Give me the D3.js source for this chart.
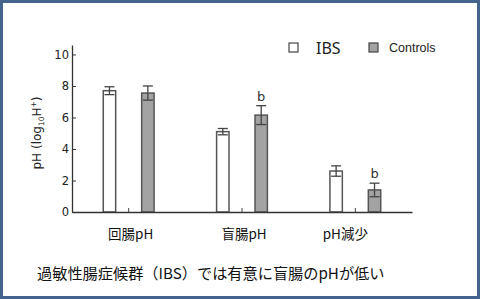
<!DOCTYPE html>
<html>
<head>
<meta charset="utf-8">
<script src="https://cdn.jsdelivr.net/npm/d3@7"></script>
<style>
  html, body { margin: 0; padding: 0; background: #fff; }
  svg { display: block; }
</style>
</head>
<body>
<div class="chart"></div>
<script>
const categories = ['回腸pH', '盲腸pH', 'pH減少'];
const series = ['IBS', 'Controls'];
const ibsMean = [7.7, 5.1, 2.6];
const ibsErr = [0.25, 0.2, 0.33];
const ctrlMean = [7.55, 6.15, 1.4];
const ctrlErr = [0.45, 0.6, 0.43];
const ctrlSig = ['', 'b', 'b'];
const yTicks = [0, 2, 4, 6, 8, 10];
const caption = '過敏性腸症候群（IBS）では有意に盲腸のpHが低い';

const width = 480;
const height = 299;
const margin = {top: 45, right: 68, bottom: 87, left: 72};
const fills = {IBS: '#ffffff', Controls: '#a3a3a3'};
const ink = '#444';

const svg = d3.select('.chart')
              .append('svg:svg')
              .attr('width', width)
              .attr('height', height)
              .attr('viewBox', [0, 0, width, height]);

svg.append('svg:rect')
   .attr('x', 1.5).attr('y', 1.5)
   .attr('width', width - 3).attr('height', height - 3)
   .attr('fill', '#fff')
   .attr('stroke', '#44638e')
   .attr('stroke-width', 3);

const x = d3.scaleBand()
            .domain(categories)
            .range([margin.left, width - margin.right]);

const xs = d3.scalePoint()
             .domain(series)
             .range([-19.2, 19.2]);

const y = d3.scaleLinear()
            .domain([0, 10.6])
            .range([height - margin.bottom, margin.top]);

const barW = 12.4;
const capW = 10;

const rows = [];
categories.forEach((c, i) => {
  rows.push({cat: c, s: 'IBS', v: ibsMean[i], e: ibsErr[i], sig: ''});
  rows.push({cat: c, s: 'Controls', v: ctrlMean[i], e: ctrlErr[i], sig: ctrlSig[i]});
});

const cx = d => x(d.cat) + x.bandwidth() / 2 + xs(d.s);

// bars
svg.selectAll('rect.bar')
   .data(rows)
   .enter().append('svg:rect')
   .attr('class', 'bar')
   .attr('x', d => cx(d) - barW / 2)
   .attr('y', d => y(d.v))
   .attr('width', barW)
   .attr('height', d => y(0) - y(d.v))
   .attr('fill', d => fills[d.s])
   .attr('stroke', '#555')
   .attr('stroke-width', 1.5);

// error bars
const err = svg.selectAll('g.err')
               .data(rows)
               .enter().append('svg:g')
               .attr('class', 'err')
               .attr('stroke', ink)
               .attr('stroke-width', 1.3);

err.append('svg:line')
   .attr('x1', cx).attr('x2', cx)
   .attr('y1', d => y(d.v - d.e)).attr('y2', d => y(d.v + d.e));
err.append('svg:line')
   .attr('x1', d => cx(d) - capW / 2).attr('x2', d => cx(d) + capW / 2)
   .attr('y1', d => y(d.v + d.e)).attr('y2', d => y(d.v + d.e));
err.append('svg:line')
   .attr('x1', d => cx(d) - capW / 2).attr('x2', d => cx(d) + capW / 2)
   .attr('y1', d => y(d.v - d.e)).attr('y2', d => y(d.v - d.e));

// significance marks
svg.selectAll('text.sig')
   .data(rows.filter(d => d.sig))
   .enter().append('svg:text')
   .attr('class', 'sig')
   .attr('x', cx)
   .attr('y', d => y(d.v + d.e) - 5)
   .attr('text-anchor', 'middle')
   .attr('font-family', '"DejaVu Sans", sans-serif')
   .attr('font-size', 13)
   .attr('fill', '#333')
   .text(d => d.sig);

// axes
const xAxis = g => g
  .attr('transform', `translate(0,${y(0)})`)
  .call(d3.axisBottom(x).tickSize(-4).tickSizeOuter(0).tickPadding(17))
  .call(g => g.select('.domain').attr('stroke', '#333').attr('stroke-width', 1.3))
  .call(g => g.selectAll('.tick line').attr('stroke', '#444'))
  .call(g => g.selectAll('.tick text')
              .attr('font-family', '"Noto Sans CJK JP", sans-serif')
              .attr('font-size', 13.5)
              .attr('fill', '#111')
              .attr('dx', (d, i) => i === 2 ? -10 : 2));

const yAxis = g => g
  .attr('transform', `translate(${margin.left},0)`)
  .call(d3.axisLeft(y).tickValues(yTicks).tickSize(-4).tickSizeOuter(0).tickPadding(3))
  .call(g => g.select('.domain').attr('stroke', '#333').attr('stroke-width', 1.3))
  .call(g => g.selectAll('.tick line').attr('stroke', '#333'))
  .call(g => g.selectAll('.tick text')
              .attr('font-family', '"DejaVu Sans", sans-serif')
              .attr('font-size', 11.5)
              .attr('fill', '#222'));

svg.append('svg:g').call(xAxis);
svg.append('svg:g').call(yAxis);

// y label
const yl = svg.append('svg:text')
              .attr('transform', 'translate(41,133) rotate(-90)')
              .attr('text-anchor', 'middle')
              .attr('font-family', '"DejaVu Sans", sans-serif')
              .attr('font-size', 12)
              .attr('fill', '#222');
yl.append('tspan').text('pH (log');
yl.append('tspan').attr('font-size', 7.5).attr('dy', 3).text('10');
yl.append('tspan').attr('dy', -3).text('H');
yl.append('tspan').attr('font-size', 7.5).attr('dy', -5).text('+');
yl.append('tspan').attr('dy', 5).text(')');

// legend
const legend = svg.selectAll('g.legend')
                  .data(series)
                  .enter().append('svg:g')
                  .attr('class', 'legend')
                  .attr('transform', (d, i) => `translate(${[289, 369][i]},43)`);
legend.append('svg:rect')
      .attr('width', 9).attr('height', 9)
      .attr('fill', d => fills[d])
      .attr('stroke', '#444')
      .attr('stroke-width', 1.2);
legend.append('svg:text')
      .attr('x', (d, i) => [27, 20][i])
      .attr('y', (d, i) => [10.5, 9][i])
      .attr('font-family', (d, i) => i === 0 ? '"Noto Sans", sans-serif' : '"Liberation Sans", sans-serif')
      .attr('font-size', (d, i) => [16, 12.5][i])
      .attr('fill', '#222')
      .text(d => d);

// caption
svg.append('svg:text')
   .attr('x', 37)
   .attr('y', 279)
   .attr('font-family', '"Noto Sans CJK JP", sans-serif')
   .attr('font-size', 15.2)
   .attr('fill', '#111')
   .text(caption);
</script>
</body>
</html>
